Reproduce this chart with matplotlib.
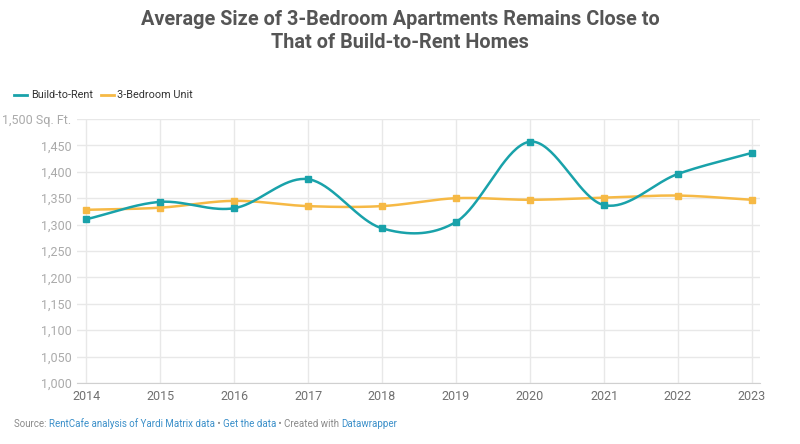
import numpy as np
import matplotlib
matplotlib.use("Agg")
import matplotlib.pyplot as plt

plt.rcParams['font.family'] = ['Roboto', 'DejaVu Sans']

years = [2014, 2015, 2016, 2017, 2018, 2019, 2020, 2021, 2022, 2023]
build_to_rent = [1310, 1343, 1331, 1386, 1293, 1305, 1457, 1337, 1396, 1436]
three_bedroom = [1328, 1332, 1345, 1335, 1335, 1350, 1347, 1351, 1355, 1347]
ytick_values = [1000, 1050, 1100, 1150, 1200, 1250, 1300, 1350, 1400, 1450, 1500]
ytick_labels = ["1,000", "1,050", "1,100", "1,150", "1,200", "1,250", "1,300",
                "1,350", "1,400", "1,450", "1,500 Sq. Ft."]

teal = "#19a2aa"
orange = "#f6b945"


def smooth(xs, ys, n=40):
    # cardinal (catmull-rom) curve through the points, like the original chart
    xs = np.asarray(xs, float)
    ys = np.asarray(ys, float)
    m = np.zeros_like(ys)
    m[1:-1] = (ys[2:] - ys[:-2]) / 2
    m[0] = ys[1] - ys[0]
    m[-1] = ys[-1] - ys[-2]
    out_x, out_y = [], []
    for i in range(len(xs) - 1):
        t = np.linspace(0, 1, n)
        h00 = 2 * t**3 - 3 * t**2 + 1
        h10 = t**3 - 2 * t**2 + t
        h01 = -2 * t**3 + 3 * t**2
        h11 = t**3 - t**2
        out_x.extend(xs[i] + t * (xs[i + 1] - xs[i]))
        out_y.extend(h00 * ys[i] + h10 * m[i] + h01 * ys[i + 1] + h11 * m[i + 1])
    return out_x, out_y


fig = plt.figure(figsize=(8, 4.44), dpi=100)
ax = fig.add_axes([77 / 800, 1 - 383 / 444, (760 - 77) / 800, (383 - 119) / 444])

for vals, col in [(three_bedroom, orange), (build_to_rent, teal)]:
    sx, sy = smooth(years, vals)
    ax.plot(sx, sy, color=col, lw=1.8, zorder=3)
    ax.plot(years, vals, ls="none", marker="s", ms=5, color=col, zorder=4)

ax.set_xlim(2014 - 9 / 74, 2023 + 8 / 74)
ax.set_ylim(1000, 1500)
ax.set_yticks(ytick_values)
ax.set_yticklabels(ytick_labels)
ax.set_xticks(years)
ax.set_xticklabels([str(y) for y in years])
ax.grid(True, color="#e8e8e8", lw=1)
ax.set_axisbelow(True)
for s in ["top", "right", "left"]:
    ax.spines[s].set_visible(False)
ax.spines["bottom"].set_color("#d0d0d0")
ax.tick_params(axis="both", length=0, labelsize=9)
ax.tick_params(axis="y", pad=4)
ax.tick_params(axis="x", colors="#707070", pad=5)
for lab in ax.get_yticklabels():
    lab.set_color("#aaaaaa")

fig.text(0.5, 0.978, "Average Size of 3-Bedroom Apartments Remains Close to\nThat of Build-to-Rent Homes",
         ha="center", va="top", fontsize=14.3, fontweight="bold", color="#555555", linespacing=1.3)

# legend
fig.lines.append(plt.Line2D([14 / 800, 27 / 800], [1 - 95 / 444] * 2, color=teal, lw=2, transform=fig.transFigure))
fig.text(31 / 800, 1 - 95 / 444, "Build-to-Rent", va="center", fontsize=7.8, color="#333333")
fig.lines.append(plt.Line2D([101 / 800, 114 / 800], [1 - 95 / 444] * 2, color=orange, lw=2, transform=fig.transFigure))
fig.text(117 / 800, 1 - 95 / 444, "3-Bedroom Unit", va="center", fontsize=7.8, color="#333333")

# footer
parts = [("Source: ", "#8a8a8a"), ("RentCafe analysis of Yardi Matrix data", "#3a8fc9"),
         (" \u2022 ", "#8a8a8a"), ("Get the data", "#3a8fc9"),
         (" \u2022 Created with ", "#8a8a8a"), ("Datawrapper", "#3a8fc9")]
fig.canvas.draw()
renderer = fig.canvas.get_renderer()
xpos = 14
for txt, col in parts:
    t = fig.text(xpos / 800, 1 - 424 / 444, txt, va="center", fontsize=7.0, color=col)
    xpos += t.get_window_extent(renderer).width

fig.savefig("out.png", dpi=100)
